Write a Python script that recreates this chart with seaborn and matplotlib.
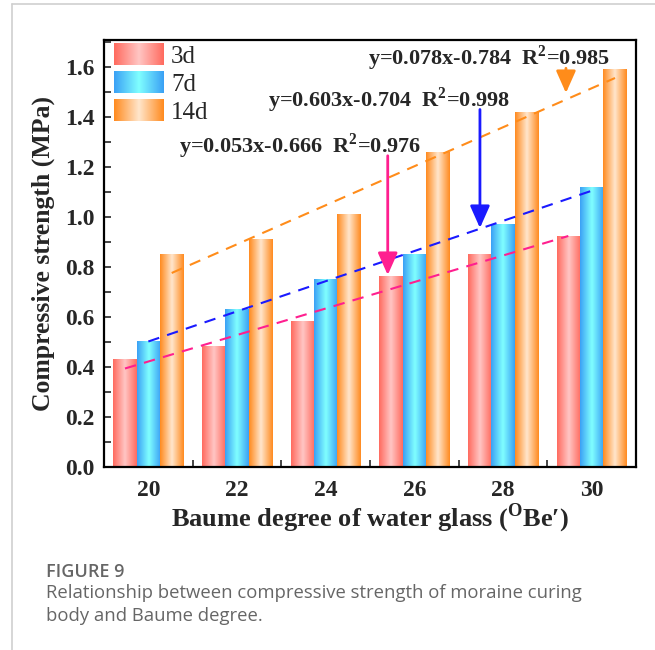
import numpy as np
import pandas as pd
import matplotlib
matplotlib.use("Agg")
import matplotlib.pyplot as plt
import seaborn as sns
from matplotlib.colors import LinearSegmentedColormap
from matplotlib.legend_handler import HandlerBase
from matplotlib.image import BboxImage
from matplotlib.transforms import Bbox, TransformedBbox
from matplotlib.lines import Line2D
from matplotlib.patches import Rectangle
from matplotlib.ticker import FixedLocator, MultipleLocator

# --- data -------------------------------------------------------------
baume = [20, 22, 24, 26, 28, 30]
ages = ["3d", "7d", "14d"]
strength_3d = [0.43, 0.48, 0.58, 0.76, 0.85, 0.92]
strength_7d = [0.50, 0.63, 0.75, 0.85, 0.97, 1.12]
strength_14d = [0.85, 0.91, 1.01, 1.26, 1.42, 1.59]

# linear fits (strength vs. Baume degree)
fit_slope = [0.053, 0.0603, 0.078]
fit_intercept = [-0.666, -0.704, -0.784]
fit_labels = [
    r"y=0.053x-0.666  R$^{\mathbf{2}}$=0.976",
    r"y=0.603x-0.704  R$^{\mathbf{2}}$=0.998",
    r"y=0.078x-0.784  R$^{\mathbf{2}}$=0.985",
]

# --- style ------------------------------------------------------------
sns.set_style("ticks")
plt.rcParams["font.family"] = ["Liberation Serif", "DejaVu Serif"]
plt.rcParams["mathtext.fontset"] = "custom"
plt.rcParams["mathtext.rm"] = "Liberation Serif:bold"
plt.rcParams["mathtext.bf"] = "Liberation Serif:bold"

edge_cols = ["#ff6a5e", "#3aa0f5", "#ff8a1e"]
mid_cols = ["#ffc6c4", "#80ffff", "#ffe6cc"]
line_cols = ["#ff1f8f", "#1a1aff", "#ff8c1a"]
cmaps = [LinearSegmentedColormap.from_list(f"g{i}", [e, m, e])
         for i, (e, m) in enumerate(zip(edge_cols, mid_cols))]
grad = np.linspace(0, 1, 256).reshape(1, -1)

df = pd.DataFrame({
    "Baume": baume * 3,
    "Strength": strength_3d + strength_7d + strength_14d,
    "Age": [a for a in ages for _ in baume],
})

fig = plt.figure(figsize=(6.55, 6.5), dpi=100)
ax = fig.add_axes([104 / 655, 1 - 467 / 650, 532 / 655, 427 / 650])

sns.barplot(data=df, x="Baume", y="Strength", hue="Age", hue_order=ages,
            palette=edge_cols, saturation=1, width=0.79, gap=0,
            errorbar=None, linewidth=0, legend=False, ax=ax)

# horizontal gradient fill on each bar
for cont, cmap in zip(ax.containers, cmaps):
    for bar in cont:
        x0, y0 = bar.get_x(), bar.get_y()
        w, h = bar.get_width(), bar.get_height()
        ax.imshow(grad, cmap=cmap, extent=[x0, x0 + w, y0, y0 + h],
                  aspect="auto", origin="lower", interpolation="bilinear",
                  zorder=bar.get_zorder() + 0.1)

ax.set_xlim(-0.5, 5.5)
ax.set_ylim(0, 1.708)

# dashed trend lines spanning the bars of each series
for cont, k, b, col in zip(ax.containers, fit_slope, fit_intercept, line_cols):
    xs = [cont[0].get_x() + cont[0].get_width() / 2,
          cont[-1].get_x() + cont[-1].get_width() / 2]
    ys = [k * baume[0] + b, k * baume[-1] + b]
    ax.plot(xs, ys, ls=(0, (5.5, 4)), color=col, lw=1.5, zorder=5)

# equation labels with arrows
eq_text_pos = [(1.71, 1.284), (2.72, 1.468), (3.84, 1.636)]
arrow_x = [2.70, 3.74, 4.71]
arrow_y = [(1.245, 0.768), (1.43, 0.956), (1.595, 1.496)]
for lab, (tx, ty), axx, (ya, yb), col in zip(fit_labels, eq_text_pos,
                                             arrow_x, arrow_y, line_cols):
    ax.text(tx, ty, lab, ha="center", va="center", fontsize=16,
            fontweight="bold", zorder=6)
    ax.annotate("", xy=(axx, yb), xytext=(axx, ya),
                arrowprops=dict(arrowstyle="-|>,head_length=0.9,head_width=0.4",
                                color=col, lw=2.0, shrinkA=0, shrinkB=0,
                                mutation_scale=15),
                zorder=6)

# axes, ticks, labels
for sp in ax.spines.values():
    sp.set_linewidth(1.6)
    sp.set_color("black")
    sp.set_visible(True)

ax.set_yticks(np.arange(0, 1.61, 0.2))
ax.set_yticklabels([f"{v:.1f}" for v in np.arange(0, 1.61, 0.2)])
ax.yaxis.set_minor_locator(MultipleLocator(0.1))
ax.tick_params(axis="y", which="both", direction="in", length=5, width=1.2,
               left=True, right=False, labelsize=17, pad=7)
ax.xaxis.set_minor_locator(FixedLocator([0.5, 1.5, 2.5, 3.5, 4.5]))
ax.tick_params(axis="x", which="major", length=0, labelsize=17, pad=9)
ax.tick_params(axis="x", which="minor", direction="in", length=5, width=1.2,
               bottom=True, top=False)
for t in ax.get_xticklabels() + ax.get_yticklabels():
    t.set_fontweight("bold")

ax.set_xlabel("Baume degree of water glass ($^{\\mathrm{O}}$Be\u2032)",
              fontsize=19, fontweight="bold", labelpad=1)
ax.set_ylabel("Compressive strength (MPa)", fontsize=18.5, fontweight="bold",
              labelpad=7)


# legend with gradient swatches
class GradientHandler(HandlerBase):
    def __init__(self, cmap):
        super().__init__()
        self.cmap = cmap

    def create_artists(self, legend, orig_handle, xdescent, ydescent,
                       width, height, fontsize, trans):
        bb = TransformedBbox(Bbox.from_bounds(-xdescent, -ydescent,
                                              width, height), trans)
        img = BboxImage(bb, cmap=self.cmap, interpolation="bilinear")
        img.set_data(grad)
        return [img]


handles = [Rectangle((0, 0), 1, 1) for _ in ages]
ax.legend(handles, ages,
          handler_map={h: GradientHandler(c) for h, c in zip(handles, cmaps)},
          loc="upper left", bbox_to_anchor=(-0.015, 1.031), frameon=False,
          fontsize=18, handlelength=2.0, handleheight=0.92,
          labelspacing=0.14, handletextpad=0.3, borderaxespad=0.3)

# page frame and figure caption
fig.add_artist(Line2D([12 / 655, 1], [1 - 4 / 650, 1 - 4 / 650],
                      color="#cfcfcf", lw=1.2))
fig.add_artist(Line2D([12 / 655, 12 / 655], [0, 1 - 4 / 650],
                      color="#cfcfcf", lw=1.2))
fig.text(46 / 655, 1 - 572 / 650, "FIGURE 9", family="Open Sans",
         fontweight="semibold", fontsize=13, color="#666666", va="center")
fig.text(46 / 655, 1 - 593 / 650,
         "Relationship between compressive strength of moraine curing",
         family="Open Sans", fontsize=13.3, color="#666666", va="center")
fig.text(46 / 655, 1 - 616 / 650, "body and Baume degree.",
         family="Open Sans", fontsize=13.3, color="#666666", va="center")

fig.savefig("out.png", dpi=100)
